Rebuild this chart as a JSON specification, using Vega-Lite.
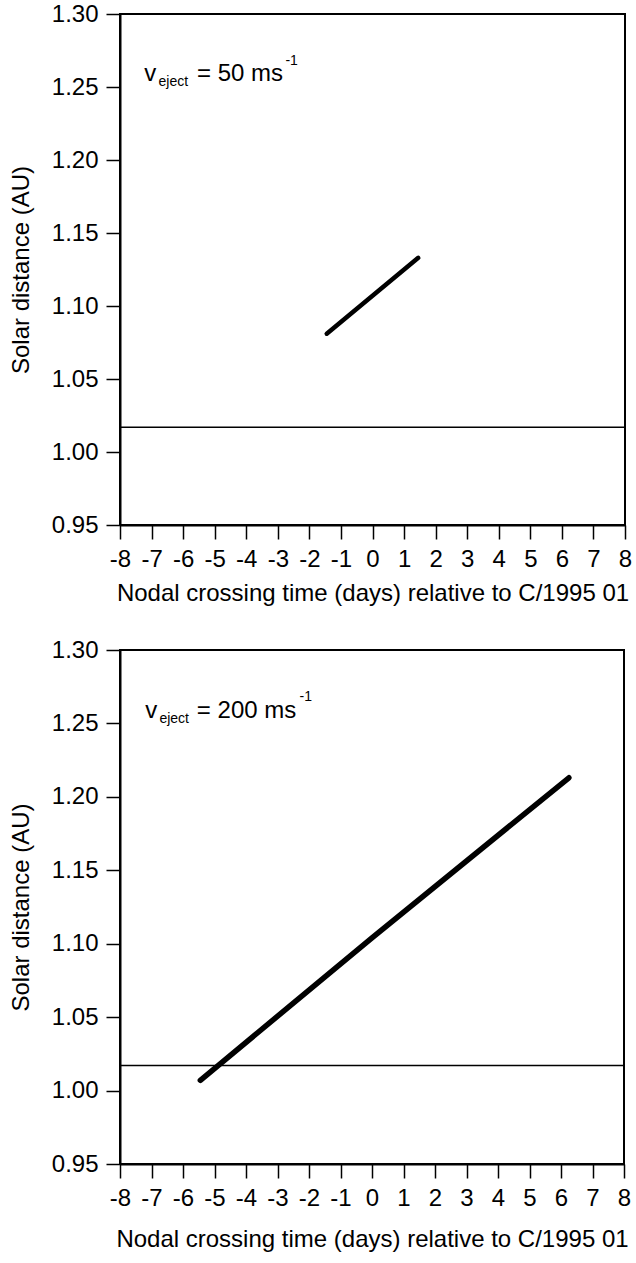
{
  "$schema": "https://vega.github.io/schema/vega-lite/v6.json",
  "padding": {"left": 8, "top": 1, "right": 5, "bottom": 5},
  "spacing": 31,
  "background": "white",
  "config": {
    "font": "Liberation Sans",
    "view": {"stroke": "black", "strokeWidth": 2},
    "axis": {
      "grid": false, "domainColor": "black", "domainWidth": 2,
      "tickColor": "black", "tickWidth": 1.5, "tickSize": 14,
      "labelColor": "black", "labelFontSize": 24, "labelFont": "Liberation Sans",
      "titleFont": "Liberation Sans", "titleFontSize": 24, "titleFontWeight": "normal",
      "titleColor": "black", "labelFlush": false, "labelOverlap": false, "labelPadding": 8
    },
    "axisX": {"titlePadding": 10},
    "axisY": {"titlePadding": 18}
  },
  "datasets": {
    "line50": [{"x": -1.45, "y": 1.081}, {"x": 0, "y": 1.107}, {"x": 1.45, "y": 1.133}],
    "line200": [{"x": -5.45, "y": 1.007}, {"x": 0, "y": 1.104}, {"x": 6.25, "y": 1.213}],
    "hline": [{"y": 1.017}],
    "big50": [{"x": -7.23, "y": 1.254, "label": "v"}, {"x": -5.56, "y": 1.254, "label": "= 50 ms"}],
    "small50": [{"x": -6.78, "y": 1.2505, "label": "eject"}, {"x": -2.76, "y": 1.265, "label": "-1"}],
    "big200": [{"x": -7.2, "y": 1.254, "label": "v"}, {"x": -5.56, "y": 1.254, "label": "= 200 ms"}],
    "small200": [{"x": -6.75, "y": 1.2505, "label": "eject"}, {"x": -2.3, "y": 1.265, "label": "-1"}]
  },
  "vconcat": [
    {
      "width": 505, "height": 511,
      "layer": [
        {"data": {"name": "hline"}, "mark": {"type": "rule", "color": "black", "strokeWidth": 1.5},
         "encoding": {"y": {"field": "y", "type": "quantitative", "title": "Solar distance (AU)",
                 "scale": {"domain": [0.95, 1.3], "nice": false, "zero": false},
                 "axis": {"values": [0.95,1.0,1.05,1.1,1.15,1.2,1.25,1.3], "format": ".2f"}}}},
        {"data": {"name": "line50"}, "mark": {"type": "line", "color": "black", "strokeWidth": 4.5, "strokeCap": "round"},
         "encoding": {
           "x": {"field": "x", "type": "quantitative", "title": "Nodal crossing time (days) relative to C/1995 01",
                 "scale": {"domain": [-8, 8], "nice": false},
                 "axis": {"values": [-8,-7,-6,-5,-4,-3,-2,-1,0,1,2,3,4,5,6,7,8], "labelExpr": "'' + datum.value"}},
           "y": {"field": "y", "type": "quantitative", "title": "Solar distance (AU)",
                 "scale": {"domain": [0.95, 1.3], "nice": false, "zero": false},
                 "axis": {"values": [0.95,1.0,1.05,1.1,1.15,1.2,1.25,1.3], "format": ".2f"}}
         }},
        {"data": {"name": "big50"}, "mark": {"type": "text", "fontSize": 24, "align": "left", "baseline": "alphabetic", "color": "black"},
         "encoding": {"x": {"field": "x", "type": "quantitative", "title": "Nodal crossing time (days) relative to C/1995 01",
                 "scale": {"domain": [-8, 8], "nice": false},
                 "axis": {"values": [-8,-7,-6,-5,-4,-3,-2,-1,0,1,2,3,4,5,6,7,8], "labelExpr": "'' + datum.value"}},
                      "y": {"field": "y", "type": "quantitative", "title": "Solar distance (AU)",
                 "scale": {"domain": [0.95, 1.3], "nice": false, "zero": false},
                 "axis": {"values": [0.95,1.0,1.05,1.1,1.15,1.2,1.25,1.3], "format": ".2f"}},
                      "text": {"field": "label"}}},
        {"data": {"name": "small50"}, "mark": {"type": "text", "fontSize": 14, "align": "left", "baseline": "alphabetic", "color": "black"},
         "encoding": {"x": {"field": "x", "type": "quantitative", "title": "Nodal crossing time (days) relative to C/1995 01",
                 "scale": {"domain": [-8, 8], "nice": false},
                 "axis": {"values": [-8,-7,-6,-5,-4,-3,-2,-1,0,1,2,3,4,5,6,7,8], "labelExpr": "'' + datum.value"}},
                      "y": {"field": "y", "type": "quantitative", "title": "Solar distance (AU)",
                 "scale": {"domain": [0.95, 1.3], "nice": false, "zero": false},
                 "axis": {"values": [0.95,1.0,1.05,1.1,1.15,1.2,1.25,1.3], "format": ".2f"}},
                      "text": {"field": "label"}}}
      ]
    },
    {
      "width": 504, "height": 514,
      "layer": [
        {"data": {"name": "hline"}, "mark": {"type": "rule", "color": "black", "strokeWidth": 1.5},
         "encoding": {"y": {"field": "y", "type": "quantitative", "title": "Solar distance (AU)",
                 "scale": {"domain": [0.95, 1.3], "nice": false, "zero": false},
                 "axis": {"values": [0.95,1.0,1.05,1.1,1.15,1.2,1.25,1.3], "format": ".2f"}}}},
        {"data": {"name": "line200"}, "mark": {"type": "line", "color": "black", "strokeWidth": 5.5, "strokeCap": "round"},
         "encoding": {
           "x": {"field": "x", "type": "quantitative", "title": "Nodal crossing time (days) relative to C/1995 01",
                 "scale": {"domain": [-8, 8], "nice": false},
                 "axis": {"values": [-8,-7,-6,-5,-4,-3,-2,-1,0,1,2,3,4,5,6,7,8], "labelExpr": "'' + datum.value", "titlePadding": 17}},
           "y": {"field": "y", "type": "quantitative", "title": "Solar distance (AU)",
                 "scale": {"domain": [0.95, 1.3], "nice": false, "zero": false},
                 "axis": {"values": [0.95,1.0,1.05,1.1,1.15,1.2,1.25,1.3], "format": ".2f"}}
         }},
        {"data": {"name": "big200"}, "mark": {"type": "text", "fontSize": 24, "align": "left", "baseline": "alphabetic", "color": "black"},
         "encoding": {"x": {"field": "x", "type": "quantitative", "title": "Nodal crossing time (days) relative to C/1995 01",
                 "scale": {"domain": [-8, 8], "nice": false},
                 "axis": {"values": [-8,-7,-6,-5,-4,-3,-2,-1,0,1,2,3,4,5,6,7,8], "labelExpr": "'' + datum.value", "titlePadding": 17}},
                      "y": {"field": "y", "type": "quantitative", "title": "Solar distance (AU)",
                 "scale": {"domain": [0.95, 1.3], "nice": false, "zero": false},
                 "axis": {"values": [0.95,1.0,1.05,1.1,1.15,1.2,1.25,1.3], "format": ".2f"}},
                      "text": {"field": "label"}}},
        {"data": {"name": "small200"}, "mark": {"type": "text", "fontSize": 14, "align": "left", "baseline": "alphabetic", "color": "black"},
         "encoding": {"x": {"field": "x", "type": "quantitative", "title": "Nodal crossing time (days) relative to C/1995 01",
                 "scale": {"domain": [-8, 8], "nice": false},
                 "axis": {"values": [-8,-7,-6,-5,-4,-3,-2,-1,0,1,2,3,4,5,6,7,8], "labelExpr": "'' + datum.value", "titlePadding": 17}},
                      "y": {"field": "y", "type": "quantitative", "title": "Solar distance (AU)",
                 "scale": {"domain": [0.95, 1.3], "nice": false, "zero": false},
                 "axis": {"values": [0.95,1.0,1.05,1.1,1.15,1.2,1.25,1.3], "format": ".2f"}},
                      "text": {"field": "label"}}}
      ]
    }
  ]
}
